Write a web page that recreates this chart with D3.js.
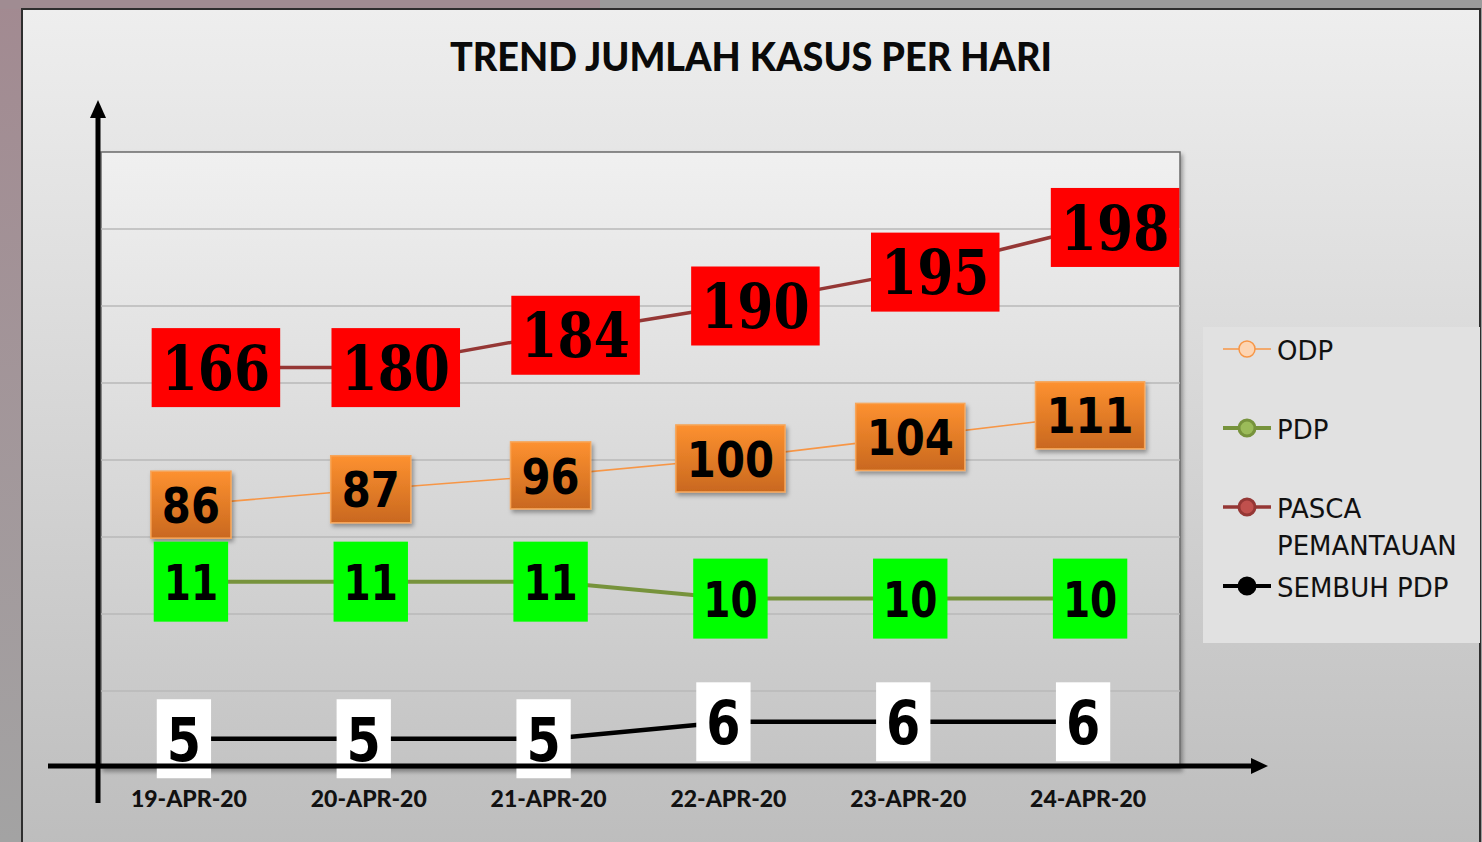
<!DOCTYPE html>
<meta charset="utf-8">
<head>
	<title>Trend Jumlah Kasus Per Hari</title>
	<script type="text/javascript" src="https://cdn.jsdelivr.net/npm/d3@7"></script>
	<style>
		body { margin: 0; background: #9c9c9c; }
		svg { display: block; }
		.grid line { stroke: #b8b8b8; stroke-width: 1.5; }
		.xlab { font-family: Lato, sans-serif; font-weight: 900; font-size: 23px; fill: #111; }
		.legend text { font-family: "DejaVu Sans", sans-serif; font-size: 26px; fill: #111; }
	</style>
</head>
<body>
<div id="chart"></div>
<script>

	// categories and the numbers written on the labels
	var dates = ["19-APR-20", "20-APR-20", "21-APR-20", "22-APR-20", "23-APR-20", "24-APR-20"];
	var odp = [86, 87, 96, 100, 104, 111];
	var pdp = [11, 11, 11, 10, 10, 10];
	var pasca = [166, 180, 184, 190, 195, 198];
	var sembuh = [5, 5, 5, 6, 6, 6];

	// height of each point on the (hidden) value axis, as drawn in the picture
	var odpLevel = [171, 181, 190, 201, 215, 229];
	var pdpLevel = [121, 121, 121, 110, 110, 110];
	var pascaLevel = [260, 260, 281, 300, 322, 351];
	var sembuhLevel = [19, 19, 19, 30, 30, 30];

	var yTicks = [0, 50, 100, 150, 200, 250, 300, 350, 400];

	var W = 1482, H = 842;
	var plot = {left: 101, right: 1180, top: 152, bottom: 768};

	var svg = d3.select("#chart").append("svg")
		.attr("width", W)
		.attr("height", H);

	var defs = svg.append("defs");

	function vgrad(id, top, bottom) {
		var g = defs.append("linearGradient").attr("id", id)
			.attr("x1", 0).attr("y1", 0).attr("x2", 0).attr("y2", 1);
		g.append("stop").attr("offset", "0%").attr("stop-color", top);
		g.append("stop").attr("offset", "100%").attr("stop-color", bottom);
	}
	vgrad("panelGrad", "#eeeeee", "#bdbdbd");
	vgrad("plotGrad", "#f0f0f0", "#c4c4c4");
	vgrad("odpGrad", "#fd9130", "#c9681f");
	vgrad("stripGrad", "#a28a91", "#a3a3a3");

	var shadow = defs.append("filter").attr("id", "shadow")
		.attr("x", "-20%").attr("y", "-20%").attr("width", "150%").attr("height", "150%");
	shadow.append("feDropShadow").attr("dx", 2).attr("dy", 3).attr("stdDeviation", 2)
		.attr("flood-color", "#000").attr("flood-opacity", 0.35);

	// slide background peeking round the panel
	svg.append("rect").attr("x", 0).attr("y", 0).attr("width", 22).attr("height", H)
		.attr("fill", "url(#stripGrad)");
	svg.append("rect").attr("x", 0).attr("y", 0).attr("width", W).attr("height", 9)
		.attr("fill", "#9b9b9b");
	svg.append("rect").attr("x", 0).attr("y", 0).attr("width", 600).attr("height", 9)
		.attr("fill", "#a08c92");

	// chart panel
	svg.append("rect")
		.attr("x", 22).attr("y", 9).attr("width", 1458).attr("height", H)
		.attr("fill", "url(#panelGrad)")
		.attr("stroke", "#2e2e2e").attr("stroke-width", 2);

	svg.append("text")
		.attr("x", 751).attr("y", 71)
		.attr("text-anchor", "middle")
		.attr("textLength", 602)
		.attr("lengthAdjust", "spacingAndGlyphs")
		.style("font-family", "Lato, sans-serif")
		.style("font-weight", "900")
		.style("font-size", "39px")
		.style("fill", "#0a0a0a")
		.text("TREND JUMLAH KASUS PER HARI");

	// scales
	var x = d3.scaleBand().domain(dates).range([plot.left, plot.right]);
	var y = d3.scaleLinear().domain([0, 400]).range([plot.bottom, plot.top]);
	var cx = function(d) { return x(d) + x.bandwidth() / 2; };

	// plot area
	svg.append("rect")
		.attr("x", plot.left).attr("y", plot.top)
		.attr("width", plot.right - plot.left).attr("height", plot.bottom - plot.top)
		.attr("fill", "url(#plotGrad)")
		.attr("stroke", "#6a6a6a").attr("stroke-width", 1.5)
		.attr("filter", "url(#shadow)");

	svg.append("g").attr("class", "grid")
		.selectAll("line")
		.data(yTicks.slice(1, -1))
		.enter().append("line")
		.attr("x1", plot.left).attr("x2", plot.right)
		.attr("y1", function(d) { return y(d); })
		.attr("y2", function(d) { return y(d); });

	// series
	var series = [
		{name: "ODP", values: odp, level: odpLevel, line: "#f79646", width: 1.6,
			dot: "#fdd5b3", box: "url(#odpGrad)", boxStroke: "#f7a65a", h: 67, dx: 0, pad: 22,
			font: "DejaVu Sans", size: 48, sx: 0.87, sy: 1.05, shadow: true},
		{name: "PDP", values: pdp, level: pdpLevel, line: "#77933c", width: 4,
			dot: "#9bbb59", box: "#00ff00", h: 80, dx: 0, pad: 20,
			font: "DejaVu Sans", size: 46, sx: 0.85, sy: 1.1},
		{name: "PASCA PEMANTAUAN", values: pasca, level: pascaLevel, line: "#953735", width: 3.5,
			dot: "#c0504d", box: "#ff0000", h: 79, dx: 25, pad: 20,
			font: "DejaVu Serif", size: 52, sx: 1, sy: 1.18},
		{name: "SEMBUH PDP", values: sembuh, level: sembuhLevel, line: "#000000", width: 4.5,
			dot: "#000000", box: "#ffffff", h: 79, dx: -7, pad: 20,
			font: "DejaVu Sans", size: 58, sx: 0.85, sy: 1.05}
	];

	var line = d3.line()
		.x(function(d) { return cx(d.date); })
		.y(function(d) { return y(d.level); });

	series.forEach(function(s) {
		s.points = dates.map(function(d, i) {
			return {date: d, value: s.values[i], level: s.level[i]};
		});
		svg.append("path")
			.datum(s.points)
			.attr("fill", "none")
			.attr("stroke", s.line)
			.attr("stroke-width", s.width)
			.attr("d", line);
	});

	// data labels
	series.forEach(function(s) {
		var g = svg.append("g").selectAll("g")
			.data(s.points)
			.enter().append("g")
			.attr("transform", function(d) {
				return "translate(" + (cx(d.date) + s.dx) + "," + y(d.level) + ")";
			});
		var rects = g.append("rect")
			.attr("fill", s.box)
			.attr("stroke", s.boxStroke || "none")
			.attr("stroke-width", 1.5);
		if (s.shadow) rects.attr("filter", "url(#shadow)");
		var texts = g.append("text")
			.attr("text-anchor", "middle")
			.attr("dy", "0.36em")
			.attr("transform", "scale(" + s.sx + "," + s.sy + ")")
			.style("font-family", s.font + ", sans-serif")
			.style("font-weight", "bold")
			.style("font-size", s.size + "px")
			.style("fill", "#000")
			.text(function(d) { return d.value; });
		texts.each(function() {
			var w = this.getComputedTextLength() * s.sx + s.pad;
			d3.select(this.parentNode).select("rect")
				.attr("x", -w / 2).attr("y", -s.h / 2)
				.attr("width", w).attr("height", s.h);
		});
	});

	// axes drawn as arrows
	var ax = svg.append("g");
	ax.append("line")
		.attr("x1", plot.left - 3).attr("x2", plot.left - 3)
		.attr("y1", plot.bottom + 35).attr("y2", plot.top - 34)
		.attr("stroke", "#000").attr("stroke-width", 5);
	ax.append("path")
		.attr("d", d3.line()([[plot.left - 3, plot.top - 52], [plot.left - 11, plot.top - 34], [plot.left + 5, plot.top - 34]]) + "Z")
		.attr("fill", "#000");
	ax.append("line")
		.attr("x1", 48).attr("x2", plot.right + 72)
		.attr("y1", plot.bottom - 2).attr("y2", plot.bottom - 2)
		.attr("stroke", "#000").attr("stroke-width", 5);
	ax.append("path")
		.attr("d", d3.line()([[plot.right + 88, plot.bottom - 2], [plot.right + 71, plot.bottom - 10], [plot.right + 71, plot.bottom + 6]]) + "Z")
		.attr("fill", "#000");

	svg.append("g").selectAll("text")
		.data(dates)
		.enter().append("text")
		.attr("class", "xlab")
		.attr("x", function(d) { return cx(d) - 2; })
		.attr("y", 807)
		.attr("text-anchor", "middle")
		.text(function(d) { return d; });

	// legend
	var legend = svg.append("g").attr("class", "legend");
	legend.append("rect")
		.attr("x", 1203).attr("y", 327).attr("width", 277).attr("height", 316)
		.attr("fill", "#e1e1e1");
	var legendY = [349, 428, 507, 586];
	series.forEach(function(s, i) {
		var gy = legendY[i];
		legend.append("line")
			.attr("x1", 1223).attr("x2", 1271).attr("y1", gy).attr("y2", gy)
			.attr("stroke", s.line).attr("stroke-width", Math.min(s.width, 4));
		legend.append("circle")
			.attr("cx", 1247).attr("cy", gy).attr("r", 8)
			.attr("fill", s.dot)
			.attr("stroke", s.line).attr("stroke-width", s.name == "ODP" ? 1.5 : 3);
		var words = s.name == "PASCA PEMANTAUAN" ? ["PASCA", "PEMANTAUAN"] : [s.name];
		var t = legend.append("text").attr("x", 1277).attr("y", gy + 11);
		words.forEach(function(w, j) {
			t.append("tspan").attr("x", 1277).attr("dy", j ? 37 : 0).text(w);
		});
	});

</script>
</body>
</html>
